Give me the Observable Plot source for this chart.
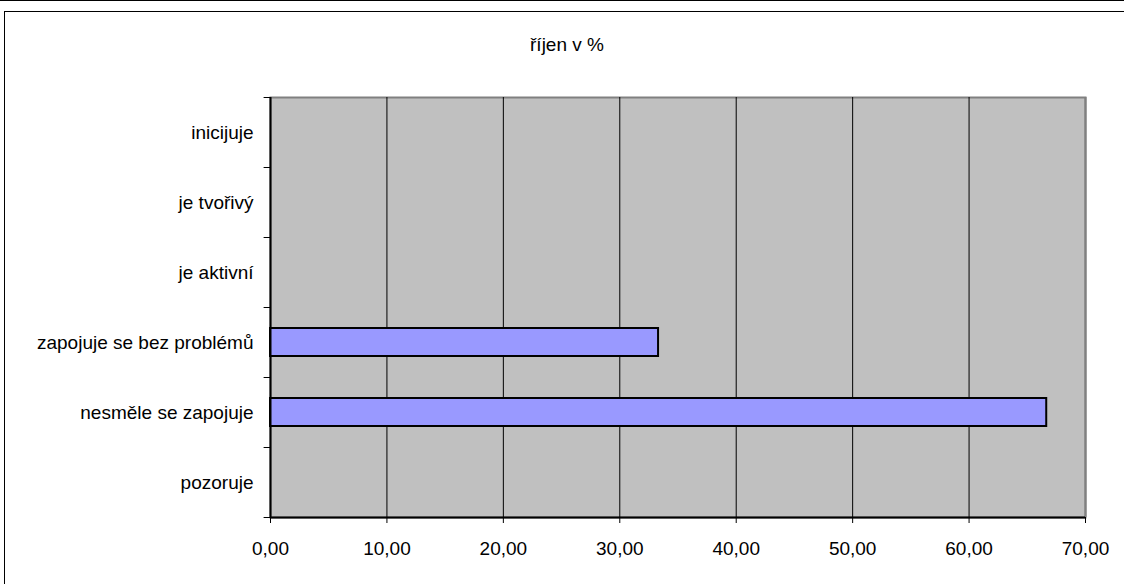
<!DOCTYPE html>
<html>
<head>
<meta charset="utf-8">
<script src="https://cdn.jsdelivr.net/npm/d3@7"></script>
<script src="https://cdn.jsdelivr.net/npm/@observablehq/plot@0.6"></script>
<style>
  html, body { margin: 0; padding: 0; background: #fff; }
  body { width: 1124px; height: 584px; position: relative; overflow: hidden; font-family: "Liberation Sans", Arial, sans-serif; }
  #topline { position: absolute; left: 0; top: 0; width: 1124px; height: 0; border-top: 1px solid #000; }
  #border { position: absolute; left: 4px; top: 11px; width: 1200px; height: 700px; border: 1px solid #000; box-shadow: 1px 1px 0 #444; }
  #title { position: absolute; left: 0; width: 1124px; top: 34px; text-align: center; font-size: 19px; color: #000; transform: translateX(5px); }
  #chart { position: absolute; left: 0; top: 0; }
</style>
</head>
<body>
<div id="topline"></div>
<div id="border"></div>
<div id="title">říjen v %</div>
<div id="chart"></div>
<script>
const categories = ["inicijuje", "je tvořivý", "je aktivní", "zapojuje se bez problémů", "nesměle se zapojuje", "pozoruje"];
const values = [0, 0, 0, 33.33, 66.67, 0];
const xTicks = [0, 10, 20, 30, 40, 50, 60, 70];

const data = categories.map((c, i) => ({category: c, value: values[i]}));
const fmt = d => d.toFixed(2).replace(".", ",");

const chart = Plot.plot({
  width: 1124,
  height: 584,
  marginLeft: 270,
  marginRight: 39,
  marginTop: 97,
  marginBottom: 67,
  style: {fontFamily: "Liberation Sans, Arial, sans-serif", fontSize: "19px", color: "#000", background: "transparent"},
  x: {domain: [0, 70], ticks: xTicks},
  y: {domain: categories, padding: 0},
  marks: [
    Plot.frame({fill: "#c0c0c0", stroke: "#808080", strokeWidth: 2}),
    Plot.ruleX(xTicks, {stroke: "#000", strokeWidth: 1}),
    Plot.ruleX([70], {stroke: "#808080", strokeWidth: 2}),
    Plot.barX(data.filter(d => d.value > 0), {x: "value", y: "category", fill: "#9999ff", stroke: "#000", strokeWidth: 2, insetTop: 21, insetBottom: 21}),
    Plot.ruleY([categories[categories.length - 1]], {x1: 0, x2: 70, dy: 35, stroke: "#000", strokeWidth: 2}),
    Plot.ruleX([0], {stroke: "#000", strokeWidth: 2}),
    Plot.ruleY(categories, {x1: -0.55, x2: 0, dy: 35, stroke: "#000", clip: false}),
    Plot.ruleY([categories[0]], {x1: -0.55, x2: 0, dy: -35, stroke: "#000"}),
    Plot.axisX({ticks: xTicks, tickFormat: fmt, tickSize: 6, tickPadding: 18, label: null, stroke: "#000", fill: "#000"}),
    Plot.axisY({tickSize: 0, tickPadding: 17, label: null, fill: "#000"})
  ]
});
document.getElementById("chart").appendChild(chart);
</script>
</body>
</html>
